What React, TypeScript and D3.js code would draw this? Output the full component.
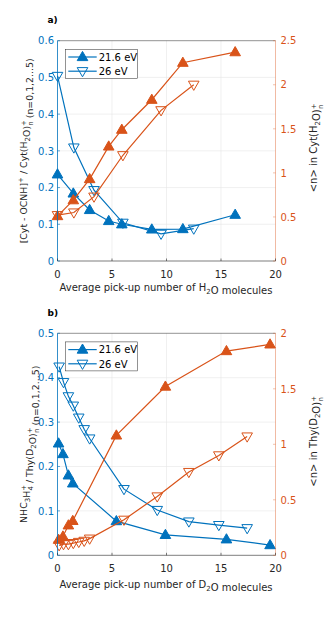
import { scaleLinear, line } from "d3";

const BLUE = "#0072BD";
const ORANGE = "#D95319";
const DARK = "#262626";
const FONT = "DejaVu Sans, Liberation Sans, sans-serif";

// panel a) cytosine + H2O
const xA216 = [0, 1.45, 2.95, 4.7, 5.9, 8.65, 11.5, 16.3];
const ratioA216 = [0.236, 0.184, 0.139, 0.109, 0.1, 0.086, 0.087, 0.126];
const nA216 = [0.51, 0.69, 0.93, 1.3, 1.49, 1.83, 2.25, 2.37];
const xA26 = [0, 1.5, 3.35, 6.0, 9.5, 12.5];
const ratioA26 = [0.504, 0.309, 0.193, 0.104, 0.074, 0.088];
const nA26 = [0.52, 0.55, 0.73, 1.2, 1.71, 2.0];

// panel b) thymine + D2O
const xB216 = [0.1, 0.5, 1.0, 1.4, 5.4, 9.9, 15.5, 19.5];
const ratioB216 = [0.252, 0.228, 0.18, 0.162, 0.077, 0.046, 0.036, 0.023];
const nB216 = [0.14, 0.17, 0.27, 0.31, 1.08, 1.52, 1.84, 1.9];
const xB26 = [0.15, 0.55, 1.0, 1.45, 1.95, 2.45, 2.95, 6.1, 9.15, 12.05, 14.8, 17.4];
const ratioB26 = [0.425, 0.39, 0.358, 0.337, 0.31, 0.284, 0.263, 0.149, 0.102, 0.076, 0.068, 0.061];
const nB26 = [0.09, 0.1, 0.1, 0.11, 0.12, 0.13, 0.15, 0.32, 0.53, 0.75, 0.9, 1.07];

const xTicks = [0, 5, 10, 15, 20];
const leftTicksA = [0, 0.1, 0.2, 0.3, 0.4, 0.5, 0.6];
const rightTicksA = [0, 0.5, 1, 1.5, 2, 2.5];
const leftTicksB = [0, 0.1, 0.2, 0.3, 0.4, 0.5];
const rightTicksB = [0, 0.5, 1, 1.5, 2];
const legendLabels = ["21.6 eV", "26 eV"];

const X0 = 57.5;
const X1 = 275.5;

function Marker({ x, y, up, color }) {
  const d = up
    ? "M0,-5.6L5.3,3.6L-5.3,3.6Z"
    : "M0,5.6L5.3,-3.6L-5.3,-3.6Z";
  return (
    <path
      d={d}
      transform={`translate(${x},${y})`}
      fill={up ? color : "none"}
      stroke={color}
      strokeWidth={1}
    />
  );
}

function Series({ xs, ys, xScale, yScale, color, up }) {
  const pts = xs.map((x, i) => [xScale(x), yScale(ys[i])]);
  const path = line()(pts);
  return (
    <g>
      <path d={path} fill="none" stroke={color} strokeWidth={1.2} />
      {pts.map((p, i) => (
        <Marker key={i} x={p[0]} y={p[1]} up={up} color={color} />
      ))}
    </g>
  );
}

function Panel({ top, bottom, tag, leftMax, rightMax, leftTicks, rightTicks, series, leftLabel, rightLabel, xLabel, xLabelOffset }) {
  const xScale = scaleLinear().domain([0, 20]).range([X0, X1]);
  const yL = scaleLinear().domain([0, leftMax]).range([bottom, top]);
  const yR = scaleLinear().domain([0, rightMax]).range([bottom, top]);
  const midY = (top + bottom) / 2;
  const lx = 65.7;
  const ly = top + 8.6;

  return (
    <g fontFamily={FONT}>
      <text x={47.5} y={top - 17.5} fontSize={9} fontWeight="bold" fill="#000">
        {tag}
      </text>
      {/* grid */}
      {leftTicks.slice(1, -1).map((t) => (
        <line key={"g" + t} x1={X0} x2={X1} y1={yL(t)} y2={yL(t)} stroke="#e6e6e6" strokeWidth={0.6} />
      ))}
      {xTicks.slice(1, -1).map((t) => (
        <line key={"v" + t} x1={xScale(t)} x2={xScale(t)} y1={top} y2={bottom} stroke="#e6e6e6" strokeWidth={0.6} />
      ))}

      {series.map((s, i) => (
        <Series
          key={i}
          xs={s.x}
          ys={s.y}
          xScale={xScale}
          yScale={s.right ? yR : yL}
          color={s.right ? ORANGE : BLUE}
          up={s.up}
        />
      ))}

      {/* box */}
      <line x1={X0} x2={X1} y1={top} y2={top} stroke={DARK} strokeWidth={0.5} />
      <line x1={X0} x2={X1} y1={bottom} y2={bottom} stroke={DARK} strokeWidth={0.6} />
      <line x1={X0} x2={X0} y1={top} y2={bottom} stroke={BLUE} strokeWidth={0.8} />
      <line x1={X1} x2={X1} y1={top} y2={bottom} stroke={ORANGE} strokeOpacity={0.5} strokeWidth={0.8} />

      {/* x ticks */}
      {xTicks.map((t) => (
        <g key={"x" + t}>
          <line x1={xScale(t)} x2={xScale(t)} y1={bottom} y2={bottom - 2.5} stroke={DARK} strokeWidth={0.6} />
          <text x={xScale(t)} y={bottom + 16.5} fontSize={10} textAnchor="middle" fill={DARK}>
            {t}
          </text>
        </g>
      ))}
      {/* left ticks */}
      {leftTicks.map((t) => (
        <g key={"l" + t}>
          <line x1={X0} x2={X0 + 2.5} y1={yL(t)} y2={yL(t)} stroke={BLUE} strokeWidth={0.6} />
          <text x={X0 - 3.5} y={yL(t) + 3.7} fontSize={10} textAnchor="end" fill={BLUE}>
            {t === 0 ? "0" : t.toFixed(1)}
          </text>
        </g>
      ))}
      {/* right ticks */}
      {rightTicks.map((t) => (
        <g key={"r" + t}>
          <line x1={X1} x2={X1 - 2.5} y1={yR(t)} y2={yR(t)} stroke={ORANGE} strokeOpacity={0.6} strokeWidth={0.6} />
          <text x={X1 + 5} y={yR(t) + 3.7} fontSize={10} textAnchor="start" fill={ORANGE}>
            {String(t)}
          </text>
        </g>
      ))}

      {/* axis labels */}
      <text x={166} y={bottom + xLabelOffset} fontSize={10} textAnchor="middle" fill={DARK}>
        {xLabel}
      </text>
      <text transform={`translate(26.5,${midY}) rotate(-90)`} fontSize={9.4} textAnchor="middle" fill={DARK}>
        {leftLabel}
      </text>
      <text transform={`translate(316.5,${midY - 3}) rotate(-90)`} fontSize={10} textAnchor="middle" fill={DARK}>
        {rightLabel}
      </text>

      {/* legend */}
      <rect x={lx} y={ly} width={71.6} height={29} fill="#fff" stroke={DARK} strokeWidth={0.5} />
      {legendLabels.map((lab, i) => {
        const yy = ly + 7.7 + i * 14.2;
        return (
          <g key={lab}>
            <line x1={lx + 2.6} x2={lx + 31} y1={yy} y2={yy} stroke={BLUE} strokeWidth={1.2} />
            <Marker x={lx + 16.8} y={yy} up={i === 0} color={BLUE} />
            <text x={lx + 33} y={yy + 3.7} fontSize={10} fill="#000">
              {lab}
            </text>
          </g>
        );
      })}
    </g>
  );
}

function SubSup({ sub, sup }) {
  // stacked superscript / subscript like MATLAB TeX ^+_n
  return (
    <>
      <tspan dy={-4} fontSize={7}>{sup}</tspan>
      <tspan dx={-5.6} dy={7} fontSize={7}>{sub}</tspan>
      <tspan dy={-3}>{""}</tspan>
    </>
  );
}

function Sub({ t }) {
  return (
    <>
      <tspan dy={3} fontSize={7}>{t}</tspan>
      <tspan dy={-3}>{""}</tspan>
    </>
  );
}

export default function App() {
  const seriesA = [
    { x: xA216, y: ratioA216, up: true, right: false },
    { x: xA26, y: ratioA26, up: false, right: false },
    { x: xA216, y: nA216, up: true, right: true },
    { x: xA26, y: nA26, up: false, right: true },
  ];
  const seriesB = [
    { x: xB216, y: ratioB216, up: true, right: false },
    { x: xB26, y: ratioB26, up: false, right: false },
    { x: xB216, y: nB216, up: true, right: true },
    { x: xB26, y: nB26, up: false, right: true },
  ];

  return (
    <svg
      width={332}
      height={618}
      style={{ position: "absolute", left: 0, top: 0, background: "#fff" }}
    >
      <rect width={332} height={618} fill="#fff" />
      <Panel
        top={40.7}
        bottom={261}
        tag="a)"
        leftMax={0.6}
        rightMax={2.5}
        leftTicks={leftTicksA}
        rightTicks={rightTicksA}
        series={seriesA}
        xLabelOffset={30}
        xLabel={<>Average pick-up number of H<Sub t="2" />O molecules</>}
        leftLabel={
          <>
            [Cyt - OCNH]<tspan dy={-4} fontSize={7}>+</tspan>
            <tspan dy={4}> / Cyt(H</tspan>
            <Sub t="2" />O)
            <SubSup sup="+" sub="n" /> (n=0,1,2...5)
          </>
        }
        rightLabel={
          <>
            {"<n> in Cyt(H"}
            <Sub t="2" />O)
            <SubSup sup="+" sub="n" />
          </>
        }
      />
      <Panel
        top={333.3}
        bottom={555.3}
        tag="b)"
        leftMax={0.5}
        rightMax={2}
        leftTicks={leftTicksB}
        rightTicks={rightTicksB}
        series={seriesB}
        xLabelOffset={33}
        xLabel={<>Average pick-up number of D<Sub t="2" />O molecules</>}
        leftLabel={
          <>
            NHC<Sub t="3" />H
            <SubSup sup="+" sub="4" /> / Thy(D
            <Sub t="2" />O)
            <SubSup sup="+" sub="n" /> (n=0,1,2...5)
          </>
        }
        rightLabel={
          <>
            {"<n> in Thy(D"}
            <Sub t="2" />O)
            <SubSup sup="+" sub="n" />
          </>
        }
      />
    </svg>
  );
}
